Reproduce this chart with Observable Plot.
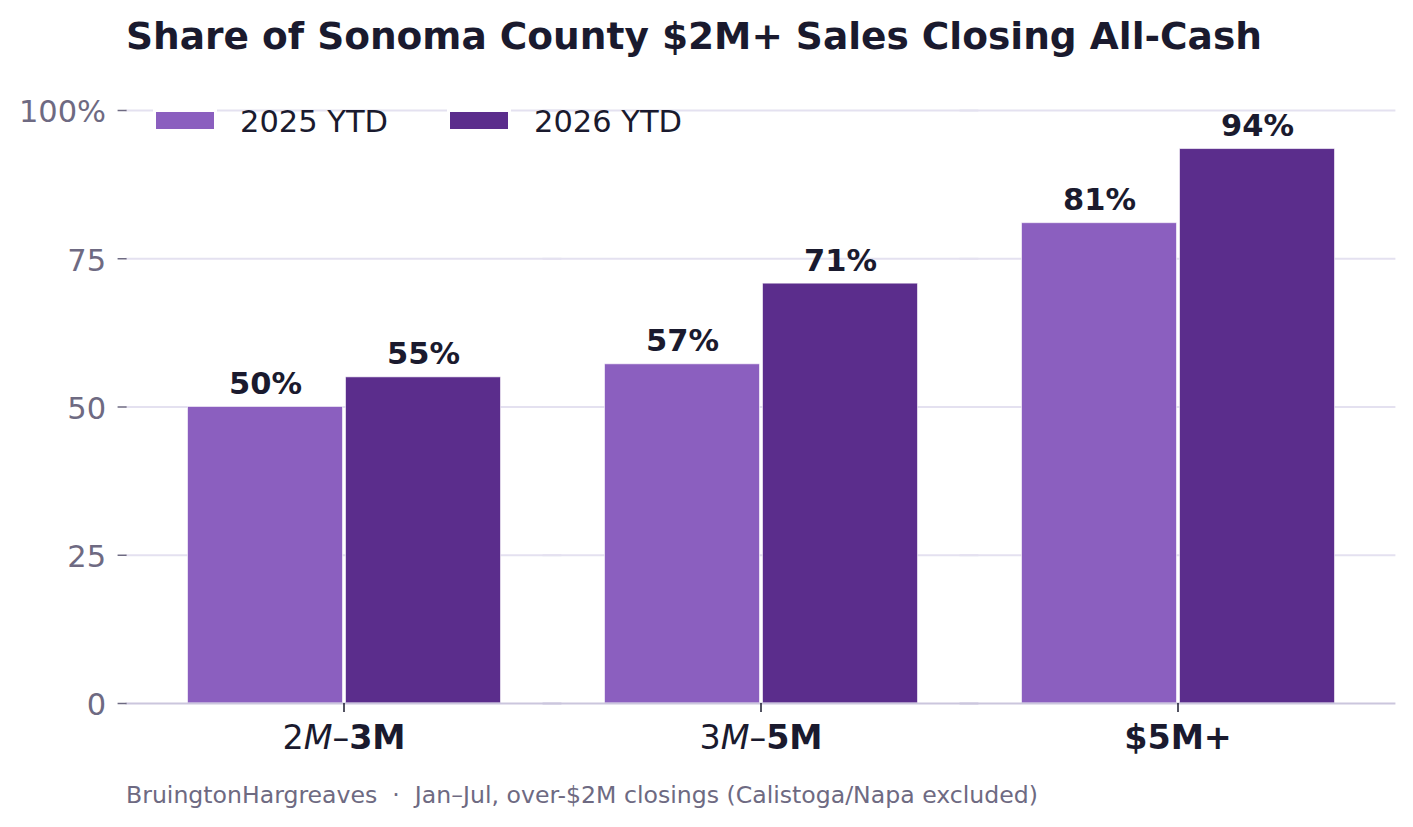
<!DOCTYPE html>
<html>
<head>
<meta charset="utf-8">
<script src="https://cdn.jsdelivr.net/npm/d3@7"></script>
<script src="https://cdn.jsdelivr.net/npm/@observablehq/plot@0.6"></script>
<style>
  body { margin: 0; background: #ffffff; }
  #page { position: relative; width: 1413px; height: 827px; overflow: hidden; background: #ffffff;
          font-family: "DejaVu Sans", sans-serif; }
  #page svg { position: absolute; left: 0; top: 0; }
  .title { position: absolute; left: 126px; top: 18px; font-size: 37.5px; line-height: 37.5px; font-weight: bold;
           color: #1a1a2e; white-space: nowrap; }
  .caption { position: absolute; left: 126px; top: 784px; font-size: 23.6px; line-height: 23.6px; color: #6e6a82;
             white-space: pre; }
  .swatch { position: absolute; top: 112px; width: 58px; height: 17px; box-shadow: 0 0 0 3px #ffffff; }
  .legend-label { position: absolute; top: 107px; font-size: 30.5px; line-height: 30.5px; color: #1a1a2e; white-space: nowrap; }
</style>
</head>
<body>
<div id="page"></div>
<script>
// ---- data ----
const categories = ["$2M–$3M", "$3M–$5M", "$5M+"];
const series = ["2025 YTD", "2026 YTD"];
const values2025 = [50, 57.2, 81];
const values2026 = [55, 70.8, 93.5];
const yTicks = [0, 25, 50, 75, 100];
// how each category label is rendered (text, weight, style)
const tickLabelParts = [
  [["2", "normal", "normal"], ["M", "normal", "italic"], ["–", "normal", "normal"], ["3M", "bold", "normal"]],
  [["3", "normal", "normal"], ["M", "normal", "italic"], ["–", "normal", "normal"], ["5M", "bold", "normal"]],
  [["$5M+", "bold", "normal"]]
];
const seriesColors = ["#8b5fbf", "#5b2d8c"];
const titleText = "Share of Sonoma County $2M+ Sales Closing All-Cash";
const captionText = "BruingtonHargreaves  ·  Jan–Jul, over-$2M closings (Calistoga/Napa excluded)";
const legendX = [156, 450];

const rows = [];
categories.forEach((c, i) => {
  rows.push({category: c, series: series[0], value: values2025[i]});
  rows.push({category: c, series: series[1], value: values2026[i]});
});

const W = 1413, H = 827, ML = 126, MR = 18.5, MT = 110, MB = 124;
const padInner = 0.24, padOuter = 0.14;
// distance from each facet band edge out to the frame edge (for lines spanning the whole frame)
const step = (W - ML - MR) / (categories.length - padInner + 2 * padOuter);
const outer = padOuter * step;

const chart = Plot.plot({
  width: W,
  height: H,
  marginTop: MT,
  marginBottom: MB,
  marginLeft: ML,
  marginRight: MR,
  style: {fontFamily: '"DejaVu Sans", sans-serif', fontSize: "30.5px", background: "transparent", overflow: "visible"},
  fx: {domain: categories, paddingInner: padInner, paddingOuter: padOuter, label: null},
  x: {domain: series, padding: 0, axis: null},
  y: {domain: [0, 100]},
  color: {domain: series, range: seriesColors},
  marks: [
    Plot.ruleY(yTicks.filter(d => d > 0), {stroke: "#e4e1f0", strokeWidth: 2, insetLeft: -outer - 1, insetRight: -outer - 1}),
    Plot.barY(rows, {fx: "category", x: "series", y: "value", fill: "series",
      stroke: "#ffffff", strokeOpacity: 0.6, strokeWidth: 1, insetLeft: 1.5, insetRight: 1.5}),
    Plot.ruleY([0], {stroke: "#cbc6dd", strokeWidth: 2, insetLeft: -outer - 1, insetRight: -outer - 1}),
    Plot.text(rows, {fx: "category", x: "series", y: "value", text: d => Math.round(d.value) + "%",
      dy: -13, lineAnchor: "bottom", fontWeight: "bold", fontSize: 30.5, fill: "#1a1a2e"}),
    Plot.axisY({ticks: yTicks, tickFormat: d => d === 100 ? "100%" : String(d),
      tickSize: 9, tickPadding: 12, fontSize: 30.5, color: "#6e6a82", label: null, dx: -outer, strokeWidth: 1.5}),
    Plot.axisFx({anchor: "bottom", tickSize: 9, tickPadding: 12.5, fontSize: 33.4, color: "#1a1a2e", label: null, strokeWidth: 1.5})
  ]
});

const page = document.getElementById("page");
page.appendChild(chart);

// nudge y tick labels to sit like the reference
chart.querySelectorAll('g[aria-label="y-axis tick label"] text').forEach(t => t.setAttribute("dy", "2"));

// style the category tick labels as in the reference (mixed weights)
const fxTexts = chart.querySelectorAll('g[aria-label="fx-axis tick label"] text');
fxTexts.forEach((t, i) => {
  const parts = tickLabelParts[i];
  if (!parts) return;
  t.textContent = "";
  parts.forEach(([s, w, st]) => {
    const ts = document.createElementNS("http://www.w3.org/2000/svg", "tspan");
    ts.textContent = s;
    ts.setAttribute("font-weight", w);
    ts.setAttribute("font-style", st);
    t.appendChild(ts);
  });
});

// title, legend, caption
const title = document.createElement("div");
title.className = "title";
title.textContent = titleText;
page.appendChild(title);

series.forEach((s, i) => {
  const sw = document.createElement("div");
  sw.className = "swatch";
  sw.style.left = legendX[i] + "px";
  sw.style.background = seriesColors[i];
  page.appendChild(sw);
  const lb = document.createElement("div");
  lb.className = "legend-label";
  lb.style.left = (legendX[i] + 84) + "px";
  lb.textContent = s;
  page.appendChild(lb);
});

const cap = document.createElement("div");
cap.className = "caption";
cap.textContent = captionText;
page.appendChild(cap);
</script>
</body>
</html>
